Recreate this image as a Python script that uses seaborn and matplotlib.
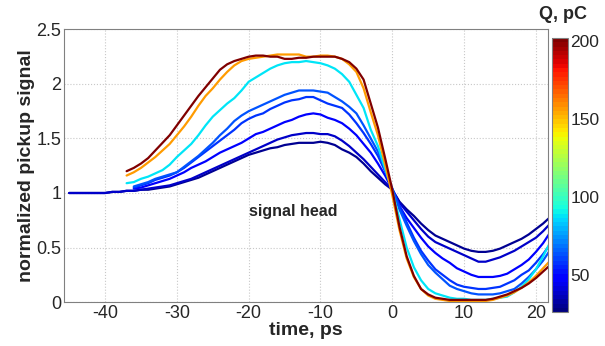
import numpy as np
import pandas as pd
import seaborn as sns
import matplotlib
matplotlib.use("Agg")
import matplotlib.pyplot as plt
from matplotlib.colors import Normalize
from matplotlib.cm import ScalarMappable

# time axes (ps) for the three groups of traces
t_high = list(range(-37, 23))
t_mid = list(range(-36, 23))
t_low = list(range(-45, 23))

# bunch charge of every trace (pC)
charges = [200, 157, 87, 64, 58, 47, 38, 30]

# normalized pickup signal, one list per charge
sig_200 = [1.20, 1.23, 1.27, 1.32, 1.39, 1.46, 1.53, 1.62, 1.71, 1.80,
           1.89, 1.97, 2.05, 2.13, 2.18, 2.21, 2.23, 2.25, 2.26, 2.26,
           2.25, 2.25, 2.23, 2.23, 2.24, 2.24, 2.25, 2.25, 2.25, 2.25,
           2.23, 2.20, 2.14, 2.04, 1.82, 1.60, 1.32, 1.03, 0.69, 0.42,
           0.24, 0.12, 0.07, 0.04, 0.03, 0.02, 0.02, 0.02, 0.02, 0.02,
           0.02, 0.03, 0.05, 0.07, 0.10, 0.13, 0.17, 0.22, 0.28, 0.34]
sig_157 = [1.16, 1.19, 1.23, 1.28, 1.33, 1.39, 1.45, 1.53, 1.61, 1.70,
           1.80, 1.89, 1.96, 2.04, 2.11, 2.17, 2.21, 2.23, 2.24, 2.25,
           2.26, 2.27, 2.27, 2.27, 2.27, 2.25, 2.25, 2.26, 2.26, 2.25,
           2.23, 2.18, 2.11, 1.96, 1.74, 1.53, 1.26, 0.98, 0.66, 0.40,
           0.23, 0.12, 0.06, 0.03, 0.02, 0.01, 0.01, 0.01, 0.01, 0.01,
           0.01, 0.02, 0.04, 0.06, 0.09, 0.13, 0.18, 0.24, 0.31, 0.38]
sig_87 = [1.09, 1.10, 1.13, 1.15, 1.18, 1.21, 1.26, 1.33, 1.39, 1.45,
          1.53, 1.62, 1.70, 1.76, 1.82, 1.87, 1.94, 2.02, 2.06, 2.10,
          2.14, 2.17, 2.19, 2.20, 2.20, 2.21, 2.20, 2.19, 2.17, 2.14,
          2.09, 2.02, 1.90, 1.78, 1.58, 1.43, 1.22, 1.02, 0.76, 0.50,
          0.32, 0.20, 0.12, 0.08, 0.06, 0.04, 0.03, 0.03, 0.02, 0.02,
          0.02, 0.03, 0.04, 0.05, 0.09, 0.14, 0.21, 0.30, 0.42, 0.55]
sig_64 = [1.06, 1.08, 1.10, 1.13, 1.15, 1.17, 1.19, 1.24, 1.29, 1.34,
          1.40, 1.46, 1.53, 1.59, 1.66, 1.71, 1.75, 1.78, 1.81, 1.84,
          1.87, 1.90, 1.92, 1.94, 1.94, 1.94, 1.93, 1.92, 1.88, 1.84,
          1.79, 1.73, 1.62, 1.50, 1.38, 1.22, 1.04, 0.85, 0.70, 0.56,
          0.44, 0.34, 0.27, 0.21, 0.15, 0.12, 0.10, 0.08, 0.07, 0.07,
          0.07, 0.08, 0.10, 0.12, 0.17, 0.23, 0.30, 0.38, 0.48]
sig_58 = [1.05, 1.07, 1.09, 1.12, 1.14, 1.16, 1.19, 1.23, 1.28, 1.33,
          1.38, 1.43, 1.48, 1.53, 1.58, 1.64, 1.68, 1.71, 1.73, 1.77,
          1.80, 1.83, 1.85, 1.86, 1.88, 1.88, 1.85, 1.82, 1.80, 1.78,
          1.72, 1.64, 1.55, 1.45, 1.34, 1.20, 1.04, 0.88, 0.73, 0.59,
          0.47, 0.38, 0.30, 0.25, 0.20, 0.16, 0.14, 0.13, 0.12, 0.12,
          0.13, 0.14, 0.17, 0.20, 0.25, 0.29, 0.36, 0.44, 0.53]
sig_47 = [1.04, 1.05, 1.07, 1.09, 1.11, 1.13, 1.16, 1.19, 1.23, 1.26,
          1.29, 1.33, 1.37, 1.40, 1.43, 1.46, 1.50, 1.54, 1.56, 1.59,
          1.62, 1.65, 1.67, 1.70, 1.72, 1.73, 1.72, 1.69, 1.67, 1.64,
          1.59, 1.53, 1.45, 1.37, 1.27, 1.16, 1.03, 0.88, 0.77, 0.68,
          0.59, 0.51, 0.45, 0.40, 0.36, 0.31, 0.28, 0.25, 0.23, 0.23,
          0.23, 0.24, 0.26, 0.30, 0.34, 0.39, 0.46, 0.54, 0.64]
sig_38 = [1.00, 1.00, 1.00, 1.00, 1.00, 1.00, 1.01, 1.01, 1.02, 1.02,
          1.03, 1.04, 1.05, 1.06, 1.07, 1.09, 1.11, 1.13, 1.16, 1.19,
          1.22, 1.25, 1.28, 1.31, 1.34, 1.37, 1.40, 1.43, 1.46, 1.49,
          1.51, 1.53, 1.54, 1.55, 1.55, 1.54, 1.54, 1.52, 1.48, 1.43,
          1.37, 1.31, 1.24, 1.17, 1.10, 1.03, 0.91, 0.83, 0.75, 0.67,
          0.60, 0.55, 0.52, 0.49, 0.46, 0.43, 0.40, 0.37, 0.37, 0.39,
          0.41, 0.44, 0.47, 0.51, 0.55, 0.59, 0.65, 0.72]
sig_30 = [1.00, 1.00, 1.00, 1.00, 1.00, 1.00, 1.01, 1.01, 1.02, 1.02,
          1.03, 1.03, 1.04, 1.05, 1.06, 1.08, 1.10, 1.12, 1.14, 1.17,
          1.20, 1.23, 1.26, 1.29, 1.32, 1.35, 1.37, 1.39, 1.41, 1.42,
          1.44, 1.45, 1.46, 1.46, 1.46, 1.47, 1.46, 1.44, 1.40, 1.37,
          1.33, 1.27, 1.20, 1.14, 1.08, 1.03, 0.92, 0.85, 0.79, 0.72,
          0.66, 0.61, 0.58, 0.55, 0.52, 0.49, 0.47, 0.46, 0.46, 0.47,
          0.49, 0.52, 0.55, 0.58, 0.62, 0.67, 0.72, 0.78]

times = [t_high, t_high, t_high, t_mid, t_mid, t_mid, t_low, t_low]
signals = [sig_200, sig_157, sig_87, sig_64, sig_58, sig_47, sig_38, sig_30]

# long-form table for seaborn
frames = []
for q, t, s in zip(charges, times, signals):
    frames.append(pd.DataFrame({"time": t, "signal": s, "Q": q}))
df = pd.concat(frames, ignore_index=True)

sns.set_style("white")
plt.rcParams["font.family"] = ["Liberation Sans", "DejaVu Sans"]
plt.rcParams["axes.unicode_minus"] = False

cmap = plt.get_cmap("jet", 64)
norm = Normalize(26, 202)

fig = plt.figure(figsize=(6.05, 3.46), dpi=100)
ax = fig.add_axes([0.106, 0.127, 0.80, 0.788])

sns.lineplot(data=df, x="time", y="signal", hue="Q", units="Q",
             estimator=None, sort=False, palette=cmap, hue_norm=norm,
             linewidth=1.6, legend=False, ax=ax)

ax.set_xlim(-45.7, 21.7)
ax.set_ylim(0, 2.5)
ax.set_xticks([-40, -30, -20, -10, 0, 10, 20])
ax.set_yticks([0, 0.5, 1, 1.5, 2, 2.5])
ax.set_yticklabels(["0", "0.5", "1", "1.5", "2", "2.5"])
ax.grid(True, linestyle=":", color="#c8c8c8", linewidth=0.8)
ax.tick_params(direction="in", length=3, labelsize=13, color="#808080", pad=2)
for sp in ax.spines.values():
    sp.set_color("#808080")
    sp.set_linewidth(0.8)

ax.set_xlabel("time, ps", fontsize=14, fontweight="bold", labelpad=0)
ax.set_ylabel("normalized pickup signal", fontsize=14, fontweight="bold", labelpad=1)
ax.text(-20, 0.83, "signal head", fontsize=11.5, fontweight="bold",
        ha="left", va="center")

# colorbar on the right
cax = fig.add_axes([0.912, 0.098, 0.0265, 0.792])
sm = ScalarMappable(norm=norm, cmap=cmap)
cb = fig.colorbar(sm, cax=cax, ticks=[50, 100, 150, 200])
cb.outline.set_edgecolor("#808080")
cb.outline.set_linewidth(0.8)
cax.tick_params(direction="in", length=3, labelsize=12.5, color="#808080", pad=2)
fig.text(0.931, 0.957, "Q, pC", fontsize=13, fontweight="bold",
         ha="center", va="center")

fig.savefig("out.png", dpi=100)
